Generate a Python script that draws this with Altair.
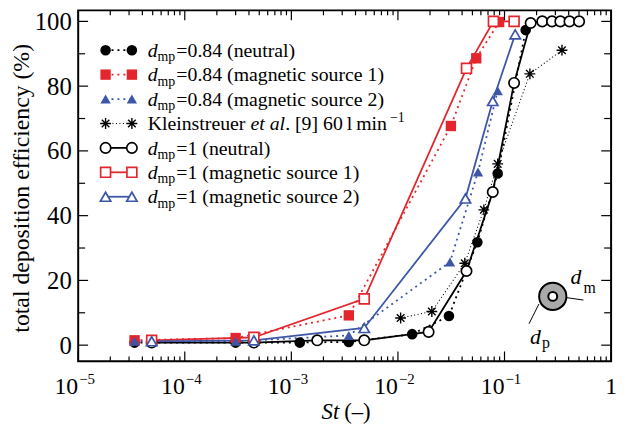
import altair as alt
import pandas as pd

FONT = "Liberation Serif"
RED = "#e3262d"
BLUE = "#3d56a6"
BLACK = "#000000"

# ---------------- data ----------------
st_084_neutral = [3.38e-5, 3.0e-4, 1.2e-3, 3.46e-3, 0.0136, 0.0301, 0.0556, 0.0863, 0.158]
eff_084_neutral = [0.8, 0.8, 0.8, 1.0, 3.4, 9.0, 31.8, 53.0, 97.3]

st_084_mag1 = [3.38e-5, 3.0e-4, 3.46e-3, 0.0314, 0.0543, 0.089]
eff_084_mag1 = [1.5, 2.2, 9.2, 67.7, 88.6, 99.8]

st_084_mag2 = [3.38e-5, 3.0e-4, 3.46e-3, 0.0308, 0.0564, 0.0863]
eff_084_mag2 = [1.2, 1.2, 3.0, 25.7, 53.5, 78.6]

st_klein = [0.0106, 0.0208, 0.0424, 0.064, 0.0863, 0.173, 0.346]
eff_klein = [8.4, 10.4, 25.3, 41.8, 56.0, 83.8, 91.1]

st_1_neutral = [4.89e-5, 4.45e-4, 1.75e-3, 4.83e-3, 0.0194, 0.044, 0.0776, 0.123,
                0.176, 0.226, 0.279, 0.334, 0.407, 0.501]
eff_1_neutral = [0.8, 0.8, 1.5, 1.5, 4.1, 22.9, 47.3, 81.0, 99.5, 100, 100, 100, 100, 100]

st_1_mag1 = [4.89e-5, 4.45e-4, 4.83e-3, 0.044, 0.0787, 0.123]
eff_1_mag1 = [1.5, 2.4, 14.3, 85.5, 100, 100]

st_1_mag2 = [4.89e-5, 4.45e-4, 4.83e-3, 0.043, 0.0776, 0.126]
eff_1_mag2 = [1.2, 1.5, 5.3, 45.3, 75.4, 96.0]

x_tick_major = [1e-5, 1e-4, 1e-3, 1e-2, 1e-1, 1.0]
x_tick_minor = [k * 10.0 ** e for e in range(-5, 0) for k in range(2, 10)]
x_label_vals = [1e-5, 1e-4, 1e-3, 1e-2, 1e-1]
x_label_exps = ["\u22125", "\u22124", "\u22123", "\u22122", "\u22121"]
y_tick_major = [0, 20, 40, 60, 80, 100]
y_tick_minor = [10, 30, 50, 70, 90]

# ---------------- layout ----------------
W, H = 539, 355
xs = alt.Scale(type="log", domain=[1e-5, 1], nice=False)
ys = alt.Scale(domain=[-5, 103.4], nice=False, zero=False)
yaxis = alt.Axis(values=y_tick_major, ticks=False, domain=False, grid=False,
                 labelFont=FONT, labelFontSize=25, labelColor="black",
                 labelPadding=7, title=None)

ASTER = "M-1,0L1,0M0,-1L0,1M-0.7,-0.7L0.7,0.7M-0.7,0.7L0.7,-0.7"


def X(f):
    return alt.X(f, type="quantitative", scale=xs, axis=None)


def Y(f):
    return alt.Y(f, type="quantitative", scale=ys, axis=yaxis)


DUMMY = pd.DataFrame({"k": [0]})

STYLES = {
    "n084": dict(color=BLACK, shape="circle", kind="filled", dash=[2, 4], lw=1.8, size=115),
    "m1084": dict(color=RED, shape="square", kind="filled", dash=[2, 4], lw=1.8, size=110),
    "m2084": dict(color=BLUE, shape="triangle-up", kind="filled", dash=[2, 4], lw=1.8, size=110),
    "klein": dict(color=BLACK, shape=ASTER, kind="aster", dash=[1, 2.5], lw=1.1, size=120),
    "n1": dict(color=BLACK, shape="circle", kind="open", dash=None, lw=1.8, size=110),
    "m11": dict(color=RED, shape="square", kind="open", dash=None, lw=1.8, size=100),
    "m21": dict(color=BLUE, shape="triangle-up", kind="open", dash=None, lw=1.8, size=110),
}


def line_mark(key):
    s = STYLES[key]
    kw = dict(color=s["color"], strokeWidth=s["lw"])
    if s["dash"]:
        kw["strokeDash"] = s["dash"]
    return kw


def point_mark(key):
    s = STYLES[key]
    if s["kind"] == "filled":
        return dict(shape=s["shape"], filled=True, fill=s["color"], strokeWidth=0,
                    size=s["size"], opacity=1)
    if s["kind"] == "open":
        return dict(shape=s["shape"], filled=True, fill="white", stroke=s["color"],
                    strokeWidth=1.7, size=s["size"], opacity=1)
    return dict(shape=s["shape"], filled=False, stroke=s["color"], strokeWidth=1.4,
                size=s["size"], opacity=1)


series = [
    ("n084", st_084_neutral, eff_084_neutral),
    ("m1084", st_084_mag1, eff_084_mag1),
    ("m2084", st_084_mag2, eff_084_mag2),
    ("klein", st_klein, eff_klein),
    ("n1", st_1_neutral, eff_1_neutral),
    ("m11", st_1_mag1, eff_1_mag1),
    ("m21", st_1_mag2, eff_1_mag2),
]

layers = []
# lines first
for key, st, eff in series:
    df = pd.DataFrame({"st": st, "eff": eff})
    layers.append(alt.Chart(df).mark_line(**line_mark(key)).encode(x=X("st"), y=Y("eff")))
# markers
for key, st, eff in series:
    df = pd.DataFrame({"st": st, "eff": eff})
    layers.append(alt.Chart(df).mark_point(**point_mark(key)).encode(x=X("st"), y=Y("eff")))


# ---------------- ticks ----------------
def xticks(vals, L):
    b = alt.Chart(pd.DataFrame({"v": vals})).mark_rule(color="black", strokeWidth=1.2)
    return [b.encode(x=X("v"), y=alt.value(H), y2=alt.value(H - L)),
            b.encode(x=X("v"), y=alt.value(0), y2=alt.value(L))]


def yticks(vals, L):
    b = alt.Chart(pd.DataFrame({"v": vals})).mark_rule(color="black", strokeWidth=1.2)
    return [b.encode(y=Y("v"), x=alt.value(0), x2=alt.value(L)),
            b.encode(y=Y("v"), x=alt.value(W), x2=alt.value(W - L))]


layers += xticks(x_tick_major, 10) + xticks(x_tick_minor, 5)
layers += yticks(y_tick_major, 10) + yticks(y_tick_minor, 7)

# x tick labels
xl = pd.DataFrame({"v": x_label_vals, "e": x_label_exps})
layers.append(alt.Chart(xl).mark_text(text="10", align="right", baseline="alphabetic",
                                      font=FONT, fontSize=24, color="black")
              .encode(x=X("v"), y=alt.value(H + 33)))
layers.append(alt.Chart(xl).mark_text(align="left", baseline="alphabetic", font=FONT,
                                      fontSize=15, color="black", dx=1)
              .encode(x=X("v"), y=alt.value(H + 23), text="e:N"))
layers.append(alt.Chart(pd.DataFrame({"v": [1.0]})).mark_text(text="1", align="center",
                                                              baseline="alphabetic", font=FONT,
                                                              fontSize=24, color="black")
              .encode(x=X("v"), y=alt.value(H + 33)))


def txt(s, x, y, size=20, style="normal", align="left", angle=None, baseline="alphabetic"):
    kw = dict(text=s, font=FONT, fontSize=size, fontStyle=style, align=align,
              baseline=baseline, color="black")
    if angle is not None:
        kw["angle"] = angle
    return alt.Chart(DUMMY).mark_text(**kw).encode(x=alt.value(x), y=alt.value(y))


# axis titles
layers.append(txt("total deposition efficiency (%)", -57, 180, size=24, angle=270,
                  align="center", baseline="middle"))
layers.append(txt("St", 264, 413, size=23, style="italic", align="right"))
layers.append(txt("(\u2013)", 269, 413, size=23))

# ---------------- legend ----------------
legend_rows = [
    ("n084", ["=0.84 (neutral)"]),
    ("m1084", ["=0.84 (magnetic source 1)"]),
    ("m2084", ["=0.84 (magnetic source 2)"]),
    ("klein", None),
    ("n1", ["=1 (neutral)"]),
    ("m11", ["=1 (magnetic source 1)"]),
    ("m21", ["=1 (magnetic source 2)"]),
]
LX1, LX2, TX = 27.7, 54.3, 70.3
for i, (key, label) in enumerate(legend_rows):
    y = 40.3 + i * 24.7
    layers.append(alt.Chart(DUMMY).mark_rule(**line_mark(key))
                  .encode(x=alt.value(LX1), x2=alt.value(LX2), y=alt.value(y)))
    for lx in (LX1, LX2):
        layers.append(alt.Chart(DUMMY).mark_point(**point_mark(key))
                      .encode(x=alt.value(lx), y=alt.value(y)))
    if label is None:
        layers.append(txt("Kleinstreuer", TX, y + 6.7))
        layers.append(txt("et al", TX + 104, y + 6.7, style="italic"))
        layers.append(txt(". [9] 60\u2009l\u2009min", TX + 139, y + 6.7))
        layers.append(txt("\u22121", TX + 245, y - 1.5, size=14))
    else:
        layers.append(txt("d", TX, y + 6.7, style="italic"))
        layers.append(txt("mp", TX + 10, y + 11, size=14))
        layers.append(txt(label[0], TX + 29, y + 6.7))

# ---------------- inset schematic ----------------
CX, CY = 480, 289.3
layers.append(alt.Chart(DUMMY).mark_rule(color="black", strokeWidth=1)
              .encode(x=alt.value(490), x2=alt.value(511), y=alt.value(290), y2=alt.value(293)))
layers.append(alt.Chart(DUMMY).mark_rule(color="black", strokeWidth=1)
              .encode(x=alt.value(466), x2=alt.value(456), y=alt.value(297), y2=alt.value(317)))
layers.append(alt.Chart(DUMMY).mark_point(shape="circle", filled=True, fill="#a9a9a9",
                                          stroke="black", strokeWidth=2, size=760, opacity=1)
              .encode(x=alt.value(CX), y=alt.value(CY)))
layers.append(alt.Chart(DUMMY).mark_point(shape="circle", filled=True, fill="white",
                                          stroke="black", strokeWidth=2, size=80, opacity=1)
              .encode(x=alt.value(CX), y=alt.value(CY)))
layers.append(txt("d", 498, 277, size=22, style="italic"))
layers.append(txt("m", 511, 286, size=16))
layers.append(txt("d", 457, 337, size=22, style="italic"))
layers.append(txt("p", 469, 342, size=16))

chart = alt.layer(*layers).properties(
    width=W, height=H,
    autosize=alt.AutoSizeParams(type="none"),
    padding={"left": 71, "top": 0, "right": 8, "bottom": 64},
).configure_view(stroke="black", strokeWidth=2)

chart.save("out.html", embed_options={"renderer": "svg", "actions": False})
